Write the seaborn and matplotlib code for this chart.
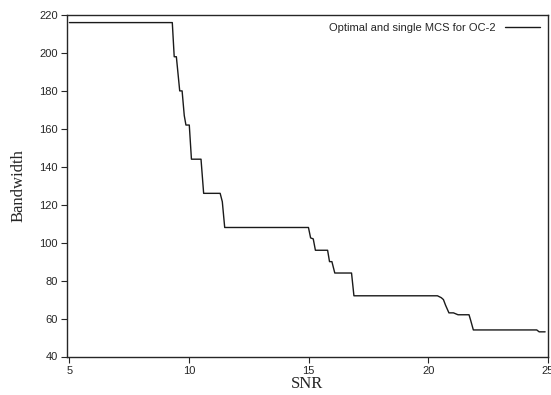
import numpy as np
import pandas as pd
import seaborn as sns
import matplotlib.pyplot as plt

sns.set_style("ticks")
plt.rcParams["font.family"] = ["Liberation Sans", "DejaVu Sans"]
plt.rcParams["xtick.direction"] = "out"
plt.rcParams["ytick.direction"] = "out"
plt.rcParams["xtick.labelsize"] = 8
plt.rcParams["ytick.labelsize"] = 8

# step curve
snr = [5.0, 9.30, 9.38, 9.47, 9.61, 9.71, 9.80, 9.87, 10.01, 10.10, 10.50,
       10.61, 11.30, 11.39, 11.49, 14.99, 15.08, 15.19, 15.28, 15.79, 15.87,
       15.97, 16.09, 16.79, 16.89, 20.38, 20.54, 20.63, 20.72, 20.86, 21.05,
       21.24, 21.70, 21.77, 21.88, 24.53, 24.63, 24.88]
bandwidth = [216, 216, 198, 198, 180, 180, 167, 162, 162, 144, 144,
             126, 126, 121.6, 108, 108, 102.5, 102, 96, 96, 90,
             90, 84, 84, 72, 72, 71, 70, 67, 63, 63,
             62, 62, 59, 54, 54, 53, 53]
label = "Optimal and single MCS for OC-2"

df = pd.DataFrame({"SNR": snr, "Bandwidth": bandwidth})

fig = plt.figure(figsize=(5.51, 3.95), dpi=100, facecolor="w")
ax = fig.add_axes([67 / 551, (395 - 356.5) / 395, (548 - 67) / 551, (356.5 - 15) / 395])
sns.lineplot(data=df, x="SNR", y="Bandwidth", sort=False, estimator=None,
             color="#1a1a1a", lw=1.0, label=label, ax=ax)

ax.set_xlim(4.9, 25.0)
ax.set_ylim(40, 220)
ax.set_xticks([5, 10, 15, 20, 25])
ax.set_yticks(range(40, 221, 20))
ax.tick_params(length=4, width=0.8, pad=2.5)
for s in ax.spines.values():
    s.set_linewidth(1.0)

ax.set_xlabel("SNR", family=["Liberation Serif"], fontsize=12, labelpad=0)
ax.set_ylabel("Bandwidth", family=["Liberation Serif"], fontsize=12, labelpad=9)

ax.legend(loc="upper right", frameon=False, markerfirst=False, fontsize=8,
          handlelength=3.2, borderaxespad=0.3)

fig.savefig("out.png", dpi=100)
